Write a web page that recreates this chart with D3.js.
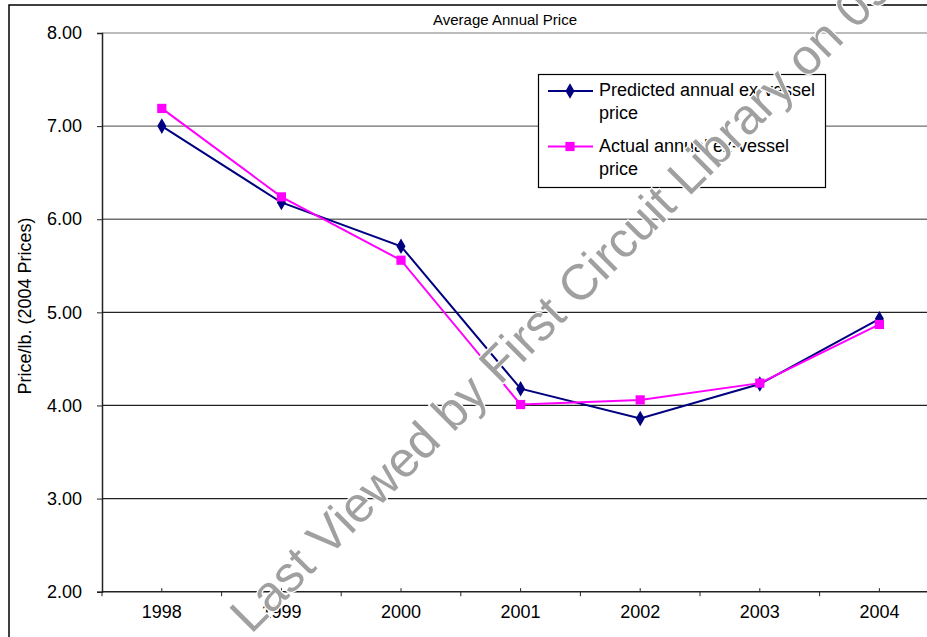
<!DOCTYPE html>
<html>
<head>
<meta charset="utf-8">
<script src="https://cdn.jsdelivr.net/npm/d3@7"></script>
<style>
  html, body { margin: 0; padding: 0; background: #fff; overflow: hidden; }
  svg { display: block; font-family: "Liberation Sans", Arial, sans-serif; }
</style>
</head>
<body>
<svg id="chart" width="927" height="637"></svg>
<script>
// Average annual ex-vessel price, 1998-2004 (2004 prices, $/lb)
const years = ["1998", "1999", "2000", "2001", "2002", "2003", "2004"];
const predicted = [7.00, 6.18, 5.71, 4.18, 3.86, 4.23, 4.93];
const actual = [7.19, 6.24, 5.56, 4.01, 4.06, 4.24, 4.87];
const yTicks = [2, 3, 4, 5, 6, 7, 8];
const seriesNames = ["Predicted annual ex-vessel price", "Actual annual ex-vessel price"];
const chartTitle = "Average Annual Price";
const yTitle = "Price/lb. (2004 Prices)";
const stampText = "Last Viewed by First Circuit Library on 09.";

const svg = d3.select("#chart");
const plotLeft = 102, plotTop = 33, plotBottom = 591.7, catW = 119.6;
const plotRight = plotLeft + catW * years.length;

const x = d3.scaleBand().domain(years).range([plotLeft, plotRight]).padding(0);
const y = d3.scaleLinear().domain([2, 8]).range([plotBottom, plotTop]);

// chart area frame (runs past the window edge on the right and bottom)
svg.append("rect").attr("x", 9).attr("y", 5).attr("width", 960).attr("height", 700)
  .attr("fill", "#fff").attr("stroke", "#000").attr("stroke-width", 1.5);

// horizontal gridlines
const gridColor = v => v === 8 ? "#a6a6a6" : (v >= 6 ? "#6e6e6e" : "#222");
svg.append("g").selectAll("line").data(yTicks.filter(v => v > 2)).join("line")
  .attr("x1", plotLeft).attr("x2", plotRight)
  .attr("y1", d => y(d)).attr("y2", d => y(d))
  .attr("stroke", d => gridColor(d)).attr("stroke-width", 1.3);

// y axis
const yAxis = svg.append("g").attr("transform", `translate(${plotLeft},0)`)
  .call(d3.axisLeft(y).tickValues(yTicks).tickFormat(d3.format(".2f")).tickSize(5).tickPadding(15));
yAxis.select(".domain").attr("stroke", "#222").attr("stroke-width", 1.5);
yAxis.selectAll(".tick line").attr("stroke", "#222");
yAxis.selectAll("text").attr("font-size", 18).attr("fill", "#000")
  .attr("font-family", "Liberation Sans, Arial, sans-serif");

// x axis: small inner ticks at the categories, outer ticks at the boundaries
const xAxis = svg.append("g").attr("transform", `translate(0,${plotBottom})`)
  .call(d3.axisBottom(x).tickSize(-3.5).tickPadding(14));
xAxis.select(".domain").remove();
xAxis.selectAll(".tick line").attr("stroke", "#222");
xAxis.selectAll("text").attr("font-size", 18).attr("fill", "#000").attr("dy", "0.71em")
  .attr("font-family", "Liberation Sans, Arial, sans-serif");
xAxis.append("line").attr("x1", plotLeft).attr("x2", plotRight).attr("y1", 0).attr("y2", 0)
  .attr("stroke", "#222").attr("stroke-width", 1.5);
xAxis.selectAll("line.bound").data(years).join("line").attr("class", "bound")
  .attr("x1", d => x(d)).attr("x2", d => x(d)).attr("y1", 0).attr("y2", 4.5)
  .attr("stroke", "#222");

// title and axis title
svg.append("text").attr("x", 505).attr("y", 25).attr("text-anchor", "middle")
  .attr("font-size", 15).text(chartTitle);
svg.append("text").attr("transform", `translate(31,306) rotate(-90)`)
  .attr("text-anchor", "middle").attr("font-size", 18).text(yTitle);

// series
const cx = d => x(d) + x.bandwidth() / 2;
const series = [
  { name: seriesNames[0], values: predicted, color: "#000080", shape: d3.symbolDiamond, size: 70 },
  { name: seriesNames[1], values: actual, color: "#FF00FF", shape: d3.symbolSquare, size: 85 }
];
const line = d3.line().x(d => cx(d.year)).y(d => y(d.v));
series.forEach(s => {
  const pts = years.map((yr, i) => ({ year: yr, v: s.values[i] }));
  svg.append("path").datum(pts).attr("d", line).attr("fill", "none")
    .attr("stroke", s.color).attr("stroke-width", 2);
  svg.append("g").selectAll("path").data(pts).join("path")
    .attr("transform", d => `translate(${cx(d.year)},${y(d.v)})`)
    .attr("d", d3.symbol().type(s.shape).size(s.size)).attr("fill", s.color);
});

// legend
const lg = svg.append("g");
lg.append("rect").attr("x", 538.5).attr("y", 74.5).attr("width", 287).attr("height", 113)
  .attr("fill", "#fff").attr("stroke", "#000").attr("stroke-width", 1.2);
series.forEach((s, i) => {
  const ly = 91 + i * 55.5;
  lg.append("line").attr("x1", 548).attr("x2", 593).attr("y1", ly).attr("y2", ly)
    .attr("stroke", s.color).attr("stroke-width", 2);
  lg.append("path").attr("transform", `translate(570,${ly})`)
    .attr("d", d3.symbol().type(s.shape).size(s.size)).attr("fill", s.color);
  const words = s.name.split(" ");
  const t = lg.append("text").attr("x", 599).attr("y", ly + 5).attr("font-size", 18);
  t.append("tspan").attr("x", 599).text(words.slice(0, -1).join(" "));
  t.append("tspan").attr("x", 599).attr("dy", 23).text(words[words.length - 1]);
});

// library stamp across the chart
svg.append("text")
  .attr("transform", "translate(251,635) rotate(-45)")
  .attr("font-size", 50).attr("fill", "#a0a0a0")
  .attr("stroke", "#fff").attr("stroke-width", 2.5).attr("paint-order", "stroke")
  .text(stampText);
</script>
</body>
</html>
